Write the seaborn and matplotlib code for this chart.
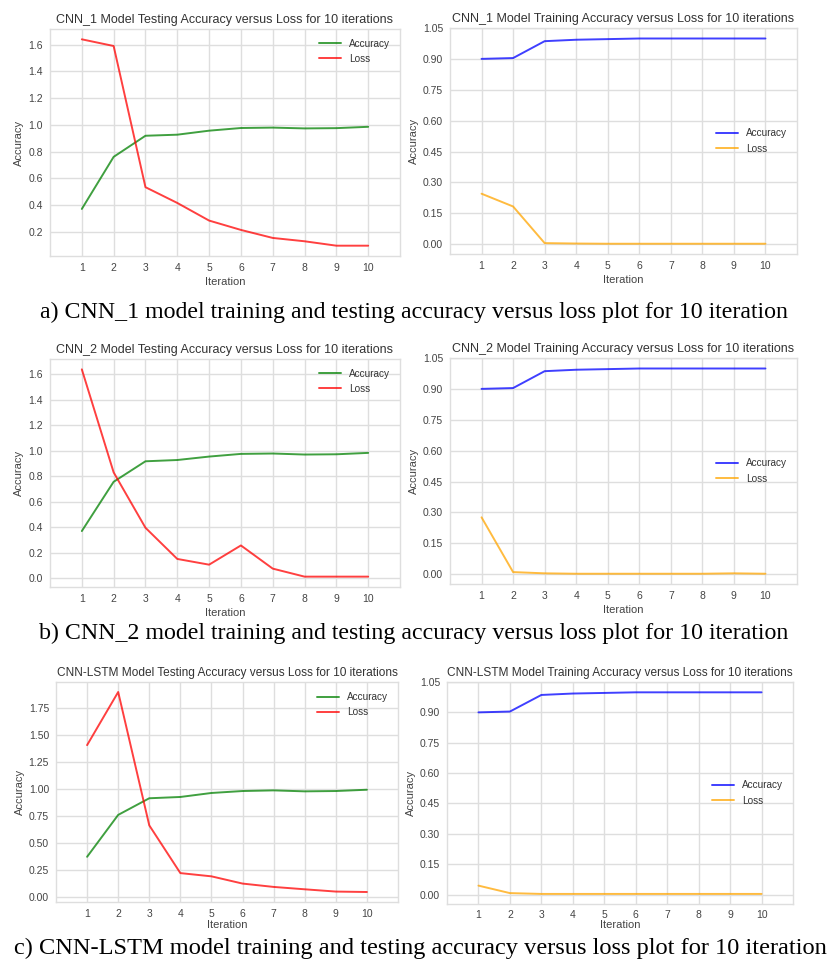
import numpy as np
import pandas as pd
import matplotlib
matplotlib.use("Agg")
import matplotlib.pyplot as plt
import seaborn as sns

iterations = list(range(1, 11))

# CNN_1
cnn1_test_acc = [0.37, 0.76, 0.918, 0.926, 0.956, 0.976, 0.979, 0.973, 0.975, 0.985]
cnn1_test_loss = [1.64, 1.59, 0.533, 0.415, 0.283, 0.213, 0.153, 0.128, 0.095, 0.095]
cnn1_train_acc = [0.900, 0.904, 0.986, 0.993, 0.996, 0.999, 0.999, 0.999, 0.999, 0.999]
cnn1_train_loss = [0.245, 0.183, 0.005, 0.003, 0.002, 0.002, 0.002, 0.002, 0.002, 0.002]

# CNN_2
cnn2_test_acc = [0.369, 0.756, 0.917, 0.927, 0.954, 0.975, 0.978, 0.970, 0.972, 0.983]
cnn2_test_loss = [1.639, 0.830, 0.395, 0.150, 0.105, 0.256, 0.074, 0.011, 0.011, 0.011]
cnn2_train_acc = [0.900, 0.904, 0.986, 0.993, 0.996, 0.999, 0.999, 0.999, 0.999, 0.999]
cnn2_train_loss = [0.276, 0.010, 0.004, 0.002, 0.002, 0.002, 0.002, 0.002, 0.004, 0.002]

# CNN-LSTM
lstm_test_acc = [0.369, 0.757, 0.911, 0.923, 0.960, 0.978, 0.984, 0.975, 0.978, 0.990]
lstm_test_loss = [1.403, 1.895, 0.660, 0.218, 0.188, 0.121, 0.090, 0.068, 0.047, 0.043]
lstm_train_acc = [0.900, 0.904, 0.986, 0.993, 0.996, 0.999, 0.999, 0.999, 0.999, 0.999]
lstm_train_loss = [0.044, 0.007, 0.003, 0.003, 0.003, 0.003, 0.003, 0.003, 0.003, 0.003]

titles = [
    "CNN_1 Model Testing Accuracy versus Loss for 10 iterations",
    "CNN_1 Model Training Accuracy versus Loss for 10 iterations",
    "CNN_2 Model Testing Accuracy versus Loss for 10 iterations",
    "CNN_2 Model Training Accuracy versus Loss for 10 iterations",
    "CNN-LSTM Model Testing Accuracy versus Loss for 10 iterations",
    "CNN-LSTM Model Training Accuracy versus Loss for 10 iterations",
]
captions = [
    "a) CNN_1 model training and testing accuracy versus loss plot for 10 iteration",
    "b) CNN_2 model training and testing accuracy versus loss plot for 10 iteration",
    "c) CNN-LSTM model training and testing accuracy versus loss plot for 10 iteration",
]
series_labels = ["Accuracy", "Loss"]

sns.set_style("whitegrid", {
    "grid.color": "#dedede",
    "axes.edgecolor": "#dedede",
})
plt.rcParams["font.family"] = ["Liberation Sans", "DejaVu Sans"]
plt.rcParams["text.color"] = "#333333"
plt.rcParams["axes.labelcolor"] = "#444444"
plt.rcParams["xtick.color"] = "#444444"
plt.rcParams["ytick.color"] = "#444444"

fig = plt.figure(figsize=(8.32, 9.63), dpi=100)
W, H = 832, 963

def add_ax(x0, y0, x1, y1):
    return fig.add_axes([x0 / W, 1 - y1 / H, (x1 - x0) / W, (y1 - y0) / H])

boxes = [
    (50, 29, 400, 256), (450, 28, 797, 254),
    (50, 359, 400, 587), (450, 358, 797, 584),
    (56, 682, 398, 902), (447, 682, 793, 904),
]
data = [
    (cnn1_test_acc, cnn1_test_loss, "test"),
    (cnn1_train_acc, cnn1_train_loss, "train"),
    (cnn2_test_acc, cnn2_test_loss, "test"),
    (cnn2_train_acc, cnn2_train_loss, "train"),
    (lstm_test_acc, lstm_test_loss, "test"),
    (lstm_train_acc, lstm_train_loss, "train"),
]
title_sizes = [9.0, 9.0, 9.0, 9.0, 8.6, 8.6]
xlabel_pads = [3, 3, 3, 3, 1, 0]
xtick_pads = [5, 5, 5, 5, 5, 4]

for i, (box, (acc, loss, kind), title) in enumerate(zip(boxes, data, titles)):
    ax = add_ax(*box)
    if kind == "test":
        colors = ["green", "red"]
    else:
        colors = ["blue", "orange"]
    df = pd.DataFrame({"Iteration": iterations, "Accuracy": acc, "Loss": loss})
    for lab, col in zip(series_labels, colors):
        sns.lineplot(data=df, x="Iteration", y=lab, ax=ax, color=col,
                     alpha=0.75, linewidth=1.4, label=lab)
    ax.set_xlim(0, 11)
    ax.set_xticks(iterations)
    if kind == "train":
        ax.set_yticks(np.arange(0, 1.06, 0.15))
        ax.yaxis.set_major_formatter(matplotlib.ticker.FormatStrFormatter("%.2f"))
        ax.legend(loc="center right", frameon=False, fontsize=7.2,
                  handlelength=2.2, borderaxespad=0.6)
    else:
        ax.legend(loc="upper right", frameon=False, fontsize=7.2,
                  handlelength=2.2, borderaxespad=0.6)
    ax.set_title(title, fontsize=title_sizes[i], pad=4)
    ax.set_xlabel("Iteration", fontsize=8, labelpad=xlabel_pads[i])
    ax.set_ylabel("Accuracy", fontsize=8, labelpad=3)
    ax.tick_params(axis="y", labelsize=7.5, length=0, pad=5)
    ax.tick_params(axis="x", labelsize=7.5, length=0, pad=xtick_pads[i])
    for sp in ax.spines.values():
        sp.set_linewidth(1.0)
    ax.grid(True, linewidth=1.0)

cap_y = [312, 633, 948]
cap_x = [0.497, 0.497, 0.505]
cap_sizes = [17.2, 17.2, 17.6]
for cap, x, y, fs in zip(captions, cap_x, cap_y, cap_sizes):
    fig.text(x, 1 - y / H, cap, ha="center", va="center",
             fontsize=fs, family=["Liberation Serif", "DejaVu Serif"], color="black")

fig.savefig("out.png", dpi=100, facecolor="white")
